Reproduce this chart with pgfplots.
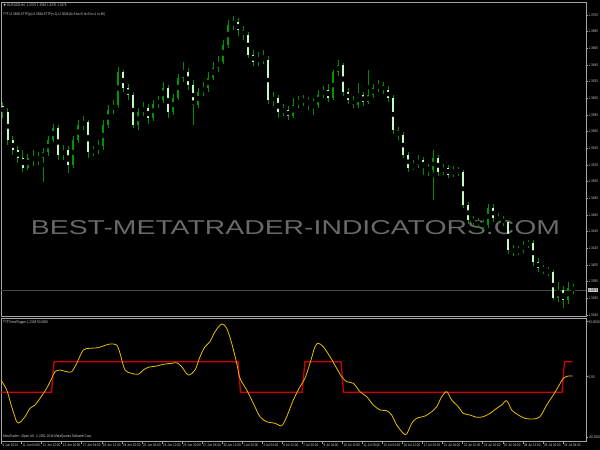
\documentclass[border=0pt]{standalone}
\usepackage{fontspec}
\setmainfont{Liberation Sans}
\newfontfamily\mtfont[FakeStretch=0.8]{Liberation Sans}
\usepackage{amssymb}
\usepackage{graphicx}
\usepackage{pgfplots}
\usepackage{pgfplotstable}
\pgfplotsset{compat=1.18}

\definecolor{frame}{RGB}{165,165,165}
\definecolor{mttext}{RGB}{205,205,205}
\definecolor{wick}{RGB}{0,140,0}
\definecolor{bull}{RGB}{0,150,0}
\definecolor{bear}{RGB}{195,250,195}
\definecolor{ttf}{RGB}{230,190,0}
\definecolor{trig}{RGB}{210,0,0}
\definecolor{water}{RGB}{105,105,105}
\definecolor{bidline}{RGB}{70,70,70}

% EURUSD H4 candles: bar, open, high, low, close
\pgfplotstableread{
i o h l c
0 1.35958 1.36006 1.35814 1.35886
1 1.35886 1.35934 1.35490 1.35550
2 1.35550 1.35598 1.35370 1.35430
3 1.35430 1.35478 1.35274 1.35334
4 1.35334 1.35430 1.35166 1.35214
5 1.35214 1.35382 1.35190 1.35334
6 1.35334 1.35430 1.35238 1.35310
7 1.35310 1.35406 1.35250 1.35334
8 1.35334 1.35454 1.35046 1.35406
9 1.35406 1.35598 1.35358 1.35550
10 1.35550 1.35742 1.35526 1.35694
11 1.35694 1.35730 1.35310 1.35370
12 1.35370 1.35490 1.35310 1.35430
13 1.35430 1.35478 1.35154 1.35250
14 1.35250 1.35598 1.35214 1.35550
15 1.35550 1.35790 1.35514 1.35730
16 1.35730 1.35838 1.35670 1.35766
17 1.35766 1.35790 1.35334 1.35406
18 1.35406 1.35478 1.35358 1.35430
19 1.35430 1.35550 1.35382 1.35478
20 1.35478 1.35790 1.35430 1.35730
21 1.35730 1.35970 1.35694 1.35910
22 1.35910 1.36030 1.35862 1.35970
23 1.35970 1.36426 1.35934 1.36366
24 1.36366 1.36390 1.36126 1.36174
25 1.36174 1.36222 1.36030 1.36090
26 1.36090 1.36126 1.35694 1.35730
27 1.35730 1.35934 1.35670 1.35886
28 1.35886 1.36006 1.35838 1.35934
29 1.35934 1.35982 1.35742 1.35814
30 1.35814 1.36030 1.35778 1.35982
31 1.35982 1.36078 1.35934 1.36030
32 1.36030 1.36246 1.35994 1.36174
33 1.36174 1.36210 1.35814 1.35886
34 1.35886 1.36102 1.35850 1.36054
35 1.36054 1.36342 1.36030 1.36294
36 1.36294 1.36486 1.36246 1.36366
37 1.36366 1.36414 1.36150 1.36210
38 1.36210 1.36270 1.35730 1.35970
39 1.35970 1.36174 1.35934 1.36126
40 1.36126 1.36246 1.36078 1.36174
41 1.36174 1.36366 1.36126 1.36294
42 1.36294 1.36486 1.36270 1.36414
43 1.36414 1.36558 1.36366 1.36486
44 1.36486 1.36750 1.36462 1.36690
45 1.36690 1.36990 1.36654 1.36930
46 1.36930 1.37038 1.36870 1.36966
47 1.36966 1.37014 1.36798 1.36870
48 1.36870 1.36918 1.36750 1.36810
49 1.36810 1.36846 1.36534 1.36570
50 1.36570 1.36630 1.36438 1.36486
51 1.36486 1.36606 1.36438 1.36534
52 1.36534 1.36630 1.36462 1.36510
53 1.36510 1.36558 1.35982 1.36030
54 1.36030 1.36126 1.35958 1.36054
55 1.36054 1.36090 1.35814 1.35886
56 1.35886 1.35982 1.35838 1.35910
57 1.35910 1.35958 1.35790 1.35838
58 1.35838 1.36054 1.35814 1.35970
59 1.35970 1.36078 1.35934 1.36030
60 1.36030 1.36090 1.35958 1.36018
61 1.36018 1.36066 1.35910 1.36006
62 1.36006 1.36054 1.35850 1.35970
63 1.35970 1.36150 1.35934 1.36090
64 1.36090 1.36198 1.36054 1.36150
65 1.36150 1.36222 1.36006 1.36054
66 1.36054 1.36390 1.36030 1.36366
67 1.36366 1.36510 1.36318 1.36450
68 1.36450 1.36474 1.36078 1.36126
69 1.36126 1.36174 1.35982 1.36030
70 1.36030 1.36078 1.35934 1.35970
71 1.35970 1.36234 1.35934 1.36090
72 1.36090 1.36126 1.35958 1.36006
73 1.36006 1.36390 1.35982 1.36090
74 1.36090 1.36222 1.36054 1.36174
75 1.36174 1.36270 1.36126 1.36210
76 1.36210 1.36246 1.36102 1.36150
77 1.36150 1.36198 1.36006 1.36054
78 1.36054 1.36090 1.35622 1.35670
79 1.35670 1.35706 1.35550 1.35610
80 1.35610 1.35646 1.35334 1.35370
81 1.35370 1.35406 1.35166 1.35214
82 1.35214 1.35310 1.35190 1.35250
83 1.35250 1.35370 1.35214 1.35310
84 1.35310 1.35346 1.35130 1.35214
85 1.35214 1.35262 1.35118 1.35190
86 1.35190 1.35430 1.34830 1.35334
87 1.35334 1.35370 1.35118 1.35166
88 1.35166 1.35262 1.35130 1.35214
89 1.35214 1.35250 1.35094 1.35130
90 1.35130 1.35238 1.35106 1.35190
91 1.35190 1.35226 1.35118 1.35166
92 1.35166 1.35190 1.34734 1.34770
93 1.34770 1.34806 1.34542 1.34590
94 1.34590 1.34638 1.34518 1.34566
95 1.34566 1.34614 1.34494 1.34542
96 1.34542 1.34590 1.34470 1.34530
97 1.34530 1.34782 1.34494 1.34734
98 1.34734 1.34782 1.34566 1.34614
99 1.34614 1.34674 1.34542 1.34590
100 1.34590 1.34638 1.34518 1.34566
101 1.34566 1.34590 1.34182 1.34230
102 1.34230 1.34290 1.34158 1.34206
103 1.34206 1.34278 1.34170 1.34230
104 1.34230 1.34338 1.34194 1.34290
105 1.34290 1.34350 1.34254 1.34314
106 1.34314 1.34350 1.34038 1.34086
107 1.34086 1.34134 1.33966 1.34014
108 1.34014 1.34050 1.33942 1.33990
109 1.33990 1.34026 1.33918 1.33966
110 1.33966 1.33990 1.33630 1.33654
111 1.33654 1.33846 1.33606 1.33750
112 1.33750 1.33798 1.33534 1.33630
113 1.33630 1.33846 1.33582 1.33774
114 1.33774 1.33822 1.33702 1.33750
}\candles

% indicator line
\pgfplotstableread{
i v
-0.4 -3.5
0.74 -13.3
1.74 -30.0
2.74 -45.0
3.4 -45.6
4.4 -40.0
5.4 -31.6
6.4 -28.3
7.4 -21.6
8.74 -11.6
9.74 -1.6
10.4 5.0
11.4 6.7
12.74 5.0
13.74 5.0
14.74 13.4
16.06 26.7
17.4 28.4
19.06 29.0
20.06 30.7
21.4 32.7
22.74 31.7
23.4 23.4
24.4 6.7
25.74 3.4
27.06 2.4
28.06 6.7
29.06 9.4
30.74 10.7
32.06 12.4
33.74 13.4
34.74 14.0
35.74 10.0
37.06 1.7
38.4 6.7
39.4 20.0
40.4 30.0
41.4 35.0
42.4 45.0
43.74 52.7
44.74 48.4
45.74 33.4
46.74 13.4
47.4 -1.6
48.74 -13.3
50.06 -26.6
51.4 -40.0
52.74 -45.0
54.4 -46.6
55.74 -49.0
56.74 -40.0
58.06 -23.3
59.4 -10.0
60.4 -1.6
61.4 13.4
62.4 30.0
63.06 33.4
64.06 30.0
65.4 20.0
66.74 8.4
67.74 0.0
68.74 -5.0
70.06 -6.6
71.4 -15.0
72.74 -20.0
74.06 -28.3
75.4 -33.3
76.74 -34.0
77.74 -38.3
78.74 -48.3
80.06 -56.6
80.74 -57.3
81.74 -46.6
82.74 -41.6
84.4 -39.3
85.74 -35.0
86.74 -30.0
87.74 -20.0
88.74 -15.0
89.74 -23.3
91.06 -30.0
92.06 -36.6
93.4 -38.3
94.74 -40.6
96.06 -40.0
97.4 -36.6
98.74 -31.6
99.74 -28.3
100.74 -24.0
101.74 -33.3
103.06 -38.3
104.4 -41.6
106.06 -42.3
107.4 -40.0
108.74 -28.3
110.06 -18.3
111.06 -10.0
112.06 -1.6
113.06 0.7
113.94 0.7
}\ttfline

% trigger steps
\pgfplotstableread{
i v
-0.4 -15.6
9.7 -15.6
10.2 15
47.0 15
47.5 -15.6
59.8 -15.6
60.4 15
67.6 15
68.1 -15.6
111.8 -15.6
112.3 15
113.94 15
}\trigger

\pgfplotsset{
  mt/.style={
    scale only axis, width=585pt,
    xmin=-0.4, xmax=116.6,
    axis line style={frame, line width=0.8pt},
    tick style={frame, line width=0.5pt},
    major tick length=2pt,
    tick align=outside,
    ticklabel style={font=\mtfont\fontsize{3.8}{4}\selectfont, text=mttext, inner sep=0.5pt},
    ytick pos=right, yticklabel pos=right,
    yticklabel style={anchor=west},
  },
}

\begin{document}
\begin{tikzpicture}
\fill[black] (0,0) rectangle (600pt,450pt);
\node[text=water, inner sep=0pt] at (295.5pt,222pt)
  {\resizebox{529pt}{14pt}{\fontsize{20}{20}\selectfont BEST-METATRADER-INDICATORS.COM}};

% price window
\begin{axis}[mt, at={(1pt,448pt)}, anchor=north west, height=314pt,
  ymin=1.33438, ymax=1.37206, xtick=\empty,
  ytick={1.3345,1.3365,1.3385,1.3405,1.3425,1.3445,1.3465,1.3485,1.3505,1.3525,
         1.3545,1.3565,1.3585,1.3605,1.3625,1.3645,1.3665,1.3685,1.3705},
  yticklabels={1.3345,1.3365,1.3385,1.3405,1.3425,1.3445,1.3465,1.3485,1.3505,1.3525,
         1.3545,1.3565,1.3585,1.3605,1.3625,1.3645,1.3665,1.3685,1.3705}]
\addplot[bidline, line width=0.7pt] coordinates {(-0.4,1.33750) (116.6,1.33750)};
% wicks
\addplot[only marks, mark=none, error bars/.cd, y dir=both, y explicit, error mark=none,
  error bar style={wick, line width=1pt}]
  table[x=i, y expr={(\thisrow{h}+\thisrow{l})/2}, y error expr={(\thisrow{h}-\thisrow{l})/2}] {\candles};
% bull bodies
\addplot[only marks, mark=none, restrict expr to domain={\thisrow{c}-\thisrow{o}}{0:1},
  error bars/.cd, y dir=both, y explicit, error mark=none,
  error bar style={bull, line width=2.5pt}]
  table[x=i, y expr={(\thisrow{o}+\thisrow{c})/2}, y error expr={max(abs(\thisrow{c}-\thisrow{o})/2,0.00005)}] {\candles};
% bear bodies
\addplot[only marks, mark=none, restrict expr to domain={\thisrow{c}-\thisrow{o}}{-1:0},
  error bars/.cd, y dir=both, y explicit, error mark=none,
  error bar style={bear, line width=2.5pt}]
  table[x=i, y expr={(\thisrow{o}+\thisrow{c})/2}, y error expr={max(abs(\thisrow{c}-\thisrow{o})/2,0.00005)}] {\candles};
\end{axis}

% indicator window
\begin{axis}[mt, at={(1pt,132pt)}, anchor=north west, height=123.7pt,
  ymin=-65, ymax=58.7,
  ytick={-60.3,0,55}, yticklabels={-60.3000,0.00,55.0000},
  xtick pos=bottom,
  xtick={-0.3,3.71,7.72,11.73,15.74,19.75,23.76,27.77,31.78,35.79,39.8,43.81,47.82,51.83,55.84,
         59.85,63.86,67.87,71.88,75.89,79.9,83.91,87.92,91.93,95.94,99.95,103.96,107.97,111.98},
  xticklabels={9 Jun 2014,11 Jun 04:00,12 Jun 12:00,13 Jun 20:00,17 Jun 04:00,18 Jun 12:00,
         19 Jun 20:00,23 Jun 04:00,24 Jun 12:00,25 Jun 20:00,27 Jun 04:00,30 Jun 12:00,
         1 Jul 20:00,3 Jul 04:00,4 Jul 12:00,7 Jul 20:00,9 Jul 04:00,10 Jul 12:00,11 Jul 20:00,
         15 Jul 04:00,16 Jul 12:00,17 Jul 20:00,21 Jul 04:00,22 Jul 12:00,23 Jul 20:00,
         25 Jul 04:00,28 Jul 12:00,29 Jul 20:00,31 Jul 04:00},
  xticklabel style={anchor=north west, xshift=0.5pt, yshift=1pt}]
\addplot[trig, line width=1.3pt] table[x=i, y=v] {\trigger};
\addplot[ttf, line width=0.8pt, smooth] table[x=i, y=v] {\ttfline};
\end{axis}

\begin{scope}[every node/.style={text=mttext, inner sep=0pt, anchor=west,
    font=\mtfont\fontsize{3.8}{4}\selectfont}]
\node at (3pt,445pt) {$\blacktriangledown$ EURUSD,H4\enspace 1.3374 1.3382 1.3370 1.3375};
\node at (3pt,435pt) {TTF=2.3838 ATTF(p)=2.3838 ATTF(n-1)=2.3838 (b=5 bs=5 fs=5 tv=1 n=85)};
\node at (3pt,127pt) {TTFTrendTrigger 1.2308 50.0000};
\node at (3pt,13.5pt) {MetaTrader - Alpari UK, \textcopyright{} 2001-2014 MetaQuotes Software Corp.};
\end{scope}
\node[fill=mttext, text=black, inner sep=0.6pt, anchor=west,
  font=\mtfont\fontsize{3.8}{4}\selectfont] at (587.5pt,160pt) {1.3375};
\pgfresetboundingbox
\useasboundingbox (0,0) rectangle (600pt,450pt);
\end{tikzpicture}
\end{document}
